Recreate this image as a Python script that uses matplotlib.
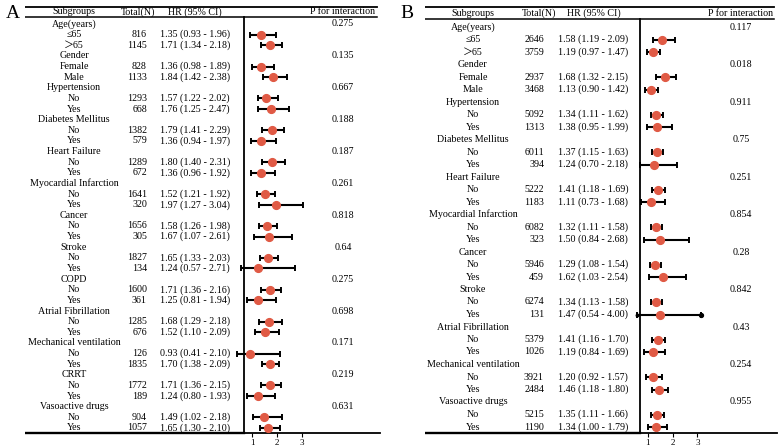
import numpy as np
import matplotlib
matplotlib.use('Agg')
import matplotlib.pyplot as plt

plt.rcParams['font.family'] = ['Liberation Serif', 'DejaVu Serif', 'Noto Sans CJK SC']

# ---- panel A data ----
a_groups = ['Age(years)', 'Gender', 'Hypertension', 'Diabetes Mellitus', 'Heart Failure',
            'Myocardial Infarction', 'Cancer', 'Stroke', 'COPD', 'Atrial Fibrillation',
            'Mechanical ventilation', 'CRRT', 'Vasoactive drugs']
a_p = ['0.275', '0.135', '0.667', '0.188', '0.187', '0.261', '0.818', '0.64', '0.275',
       '0.698', '0.171', '0.219', '0.631']
a_levels = ['≤65', '＞65', 'Female', 'Male'] + ['No', 'Yes'] * 11
a_n = [816, 1145, 828, 1133, 1293, 668, 1382, 579, 1289, 672, 1641, 320, 1656, 305,
       1827, 134, 1600, 361, 1285, 676, 126, 1835, 1772, 189, 904, 1057]
a_hr = [1.35, 1.71, 1.36, 1.84, 1.57, 1.76, 1.79, 1.36, 1.80, 1.36, 1.52, 1.97, 1.58, 1.67,
        1.65, 1.24, 1.71, 1.25, 1.68, 1.52, 0.93, 1.70, 1.71, 1.24, 1.49, 1.65]
a_lo = [0.93, 1.34, 0.98, 1.42, 1.22, 1.25, 1.41, 0.94, 1.40, 0.96, 1.21, 1.27, 1.26, 1.07,
        1.33, 0.57, 1.36, 0.81, 1.29, 1.10, 0.41, 1.38, 1.36, 0.80, 1.02, 1.30]
a_hi = [1.96, 2.18, 1.89, 2.38, 2.02, 2.47, 2.29, 1.97, 2.31, 1.92, 1.92, 3.04, 1.98, 2.61,
        2.03, 2.71, 2.16, 1.94, 2.18, 2.09, 2.10, 2.09, 2.15, 1.93, 2.18, 2.10]

# ---- panel B data ----
b_groups = ['Age(years)', 'Gender', 'Hypertension', 'Diabetes Mellitus', 'Heart Failure',
            'Myocardial Infarction', 'Cancer', 'Stroke', 'Atrial Fibrillation',
            'Mechanical ventilation', 'Vasoactive drugs']
b_p = ['0.117', '0.018', '0.911', '0.75', '0.251', '0.854', '0.28', '0.842', '0.43',
       '0.254', '0.955']
b_levels = ['≤65', '＞65', 'Female', 'Male'] + ['No', 'Yes'] * 9
b_n = [2646, 3759, 2937, 3468, 5092, 1313, 6011, 394, 5222, 1183, 6082, 323, 5946, 459,
       6274, 131, 5379, 1026, 3921, 2484, 5215, 1190]
b_hr = [1.58, 1.19, 1.68, 1.13, 1.34, 1.38, 1.37, 1.24, 1.41, 1.11, 1.32, 1.50, 1.29, 1.62,
        1.34, 1.47, 1.41, 1.19, 1.20, 1.46, 1.35, 1.34]
b_lo = [1.19, 0.97, 1.32, 0.90, 1.11, 0.95, 1.15, 0.70, 1.18, 0.73, 1.11, 0.84, 1.08, 1.03,
        1.13, 0.54, 1.16, 0.84, 0.92, 1.18, 1.11, 1.00]
b_hi = [2.09, 1.47, 2.15, 1.42, 1.62, 1.99, 1.63, 2.18, 1.69, 1.68, 1.58, 2.68, 1.54, 2.54,
        1.58, 4.00, 1.70, 1.69, 1.57, 1.80, 1.66, 1.79]
b_clip = 3.15  # CI drawn truncated beyond this value

x_ticks = [1, 2, 3]

W, H = 782, 447
fig = plt.figure(figsize=(W / 100, H / 100), dpi=100)

DOT = '#E05A45'


def px_rect(x0, y0, x1, y1):
    return [x0 / W, 1 - y1 / H, (x1 - x0) / W, (y1 - y0) / H]


def draw_panel(letter, groups, p_vals, levels, n, hr, lo, hi, lay, clip=None):
    row0, dy = lay['row0'], lay['dy']

    def row_of(py):
        return (py - row0) / dy

    fs = 7.2
    tab = fig.add_axes(px_rect(lay['x0'], 0, lay['x1'], H))
    tab.set_xlim(lay['x0'], lay['x1'])
    tab.set_ylim(row_of(H), row_of(0))
    tab.axis('off')

    # headers and rules
    hy = row_of(lay['head_y'])
    tab.text(lay['cx_sub'], hy, 'Subgroups', ha='center', va='center', fontsize=fs)
    tab.text(lay['cx_tot'], hy, 'Total(N)', ha='center', va='center', fontsize=fs)
    tab.text(lay['cx_hr'], hy, 'HR (95% CI)', ha='center', va='center', fontsize=fs)
    tab.text(lay['cx_p'], hy, 'P for interaction', ha='center', va='center', fontsize=fs)
    tab.plot([lay['x0'], lay['x1'] - 3], [row_of(lay['top_rule'])] * 2, color='black', lw=1.3)
    tab.plot([lay['x0'], lay['x1'] - 3], [row_of(lay['head_rule'])] * 2, color='black', lw=1.1)
    tab.plot([lay['x0'], lay['fx0']], [row_of(lay['bottom'])] * 2, color='black', lw=1.7)

    # group rows
    for g, (name, p) in enumerate(zip(groups, p_vals)):
        r = 3 * g
        tab.text(lay['cx_sub'], r, name, ha='center', va='center', fontsize=fs)
        tab.text(lay['cx_p'], r, p, ha='center', va='center', fontsize=fs)

    rows = []
    for i, lab in enumerate(levels):
        r = 3 * (i // 2) + 1 + i % 2
        rows.append(r)
        tab.text(lay['cx_sub'], r, lab, ha='center', va='center', fontsize=fs)
        tab.text(lay['x_n'], r, str(n[i]), ha='right', va='center', fontsize=fs)
        tab.text(lay['x_hr'], r, '%.2f (%.2f - %.2f)' % (hr[i], lo[i], hi[i]),
                 ha='left', va='center', fontsize=fs)

    fig.text(lay['letter_x'] / W, 1 - 13 / H, letter, ha='center', va='center', fontsize=14)

    # forest plot
    ax = fig.add_axes(px_rect(lay['fx0'], lay['head_rule'], lay['x1'], lay['bottom']))
    ax.patch.set_alpha(0)
    ax.set_xlim(0.68, lay['xr'])
    ax.set_ylim(row_of(lay['bottom']), row_of(lay['head_rule']))
    for s in ['top', 'right']:
        ax.spines[s].set_visible(False)
    for s in ['left', 'bottom']:
        ax.spines[s].set_linewidth(1.3)
    ax.set_yticks([])
    ax.set_xticks(x_ticks)
    ax.tick_params(axis='x', length=3, width=0.8, labelsize=6.5, pad=1.5)

    hr = np.array(hr)
    lo = np.array(lo)
    hi = np.array(hi)
    hi_d = np.minimum(hi, clip) if clip else hi
    rows = np.array(rows)
    ax.errorbar(hr, rows, xerr=[hr - lo, hi_d - hr], fmt='none', ecolor='black',
                elinewidth=1.5, capsize=2.5, capthick=1.4, clip_on=False, zorder=2)
    if clip:
        cut = hi > clip
        ax.plot(hi_d[cut], rows[cut], 'o', color='black', ms=2.8, clip_on=False, zorder=2)
        ax.plot(lo[cut], rows[cut], 'o', color='black', ms=1.8, clip_on=False, zorder=2)
    ax.plot(hr, rows, 'o', color=DOT, ms=5.6, mec=DOT, clip_on=False, zorder=3)


lay_a = dict(x0=25, x1=380, row0=24, dy=10.63, head_y=12, top_rule=7, head_rule=17,
             bottom=433, fx0=244, xr=6.12, cx_sub=74, cx_tot=138, x_n=147, x_hr=160,
             cx_hr=195, cx_p=343, letter_x=13)
lay_b = dict(x0=425, x1=777, row0=27, dy=12.5, head_y=13, top_rule=7, head_rule=19,
             bottom=433, fx0=640, xr=6.23, cx_sub=473, cx_tot=539, x_n=544, x_hr=558,
             cx_hr=594, cx_p=741, letter_x=407)

draw_panel('A', a_groups, a_p, a_levels, a_n, a_hr, a_lo, a_hi, lay_a)
draw_panel('B', b_groups, b_p, b_levels, b_n, b_hr, b_lo, b_hi, lay_b, clip=b_clip)

fig.savefig('out.png', dpi=100)
